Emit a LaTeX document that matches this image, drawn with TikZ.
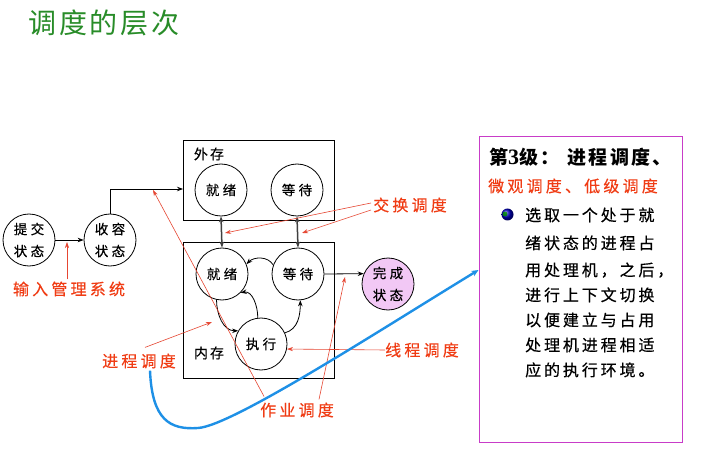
\documentclass[tikz,border=0pt]{standalone}
\usepackage{fontspec}
\setmainfont{Noto Sans CJK SC}
\newfontfamily\numfont{Liberation Serif}
\usetikzlibrary{arrows.meta,calc}
\definecolor{titlegreen}{RGB}{40,140,40}
\definecolor{lblred}{RGB}{240,60,20}
\definecolor{linered}{RGB}{230,70,50}
\definecolor{curveblue}{RGB}{30,144,230}
\definecolor{donepink}{RGB}{242,200,245}
\definecolor{boxmagenta}{RGB}{200,60,200}
\begin{document}
\begin{tikzpicture}[x=1pt,y=-1pt,
  every node/.style={inner sep=0pt},
  state/.style={draw,circle,minimum size=52pt,line width=0.8pt,align=center,
    font=\fontsize{13.5}{22}\selectfont\addfontfeatures{LetterSpace=25,FakeBold=0.4}},
  membox/.style={draw,line width=1pt,minimum width=151pt},
  arr/.style={-{Stealth[length=6pt,width=4.5pt]},line width=0.8pt},
  darr/.style={{Stealth[length=6pt,width=4.5pt]}-{Stealth[length=6pt,width=4.5pt]},line width=1.5pt,draw=black!75},
  redlbl/.style={text=lblred,font=\fontsize{16}{16}\selectfont\addfontfeatures{LetterSpace=20,FakeBold=0.3}},
  redarr/.style={-{Stealth[length=6pt,width=4pt]},line width=0.6pt,draw=linered},
  memlbl/.style={font=\fontsize{14}{14}\selectfont\addfontfeatures{LetterSpace=15,FakeBold=0.4}},
  para/.style={anchor=base west,font=\fontsize{16}{16}\selectfont\addfontfeatures{LetterSpace=18,FakeBold=0.4}},
]
\useasboundingbox (0,0) rectangle (714,454);
\fill[white] (0,0) rectangle (714,454);

% title
\node[text=titlegreen,font=\fontsize{28}{28}\selectfont\addfontfeatures{LetterSpace=10}] (title) at (104,23) {调度的层次};

% memory boxes
\node[membox,minimum height=80pt] (wc) at (258.5,181) {};
\node[membox,minimum height=135pt] (nc) at (258.5,310.5) {};
\node[memlbl] (wcl) at (209,154) {外存};
\node[memlbl] (ncl) at (209,353) {内存};

% states
\node[state] (tj) at (29,240) {提交\\状态};
\node[state] (sr) at (110,240) {收容\\状态};
\node[state] (or) at (221,190) {就绪};
\node[state] (ow) at (297,190) {等待};
\node[state] (ir) at (222,274) {就绪};
\node[state] (iw) at (298,274) {等待};
\node[state] (ix) at (261,344) {执行};
\node[state,fill=donepink] (wcs) at (388,284) {完成\\状态};

% black connectors
\coordinate (wcin) at (183,189);
\draw[arr] (tj) -- (sr);
\draw[arr] (sr.north) |- (wcin);
\draw[darr] (or.south) -- (ir.north);
\draw[darr] (ow.south) -- (iw.north);
\draw[arr] (iw.east) -- (wcs.157);
\draw[arr] (iw.160) to[out=120,in=45] (ir.22);
\draw[arr] (ix.97) to[out=90,in=10] (ir.-45);
\draw[arr] (ix.25) to[out=15,in=-90] (iw.-85);
\draw[arr] (ir.-102) to[out=-90,in=180] (ix.150);

% red labels
\node[redlbl] (srl) at (69,289) {输入管理系统};
\node[redlbl] (jh) at (410,205) {交换调度};
\node[redlbl] (xc) at (422,350) {线程调度};
\node[redlbl] (jc) at (139,361) {进程调度};
\node[redlbl] (zy) at (297,410) {作业调度};

% red annotation targets
\coordinate (t0) at (67,242);
\coordinate (t1) at (225,233);
\coordinate (t2) at (302,233);
\coordinate (t3) at (212,322);
\coordinate (t4) at (153,190);
\coordinate (t5) at (345,277);

\draw[redarr] ($(srl.north)+(-2,-2)$) -- (t0);
\draw[redarr] ($(jh.west)+(-2,-2)$) -- (t1);
\draw[redarr] ($(jh.west)+(-2,5)$) -- (t2);
\draw[redarr] (xc.west) -- (ix.-11);
\draw[redarr] ($(jc.north)+(6,-6)$) -- (t3);
\draw[redarr] ($(zy.north west)+(4,-6)$) -- (t4);
\draw[redarr] ($(zy.north)+(22,-3)$) -- (t5);

% right box
\node[draw=boxmagenta,line width=1pt,minimum width=203pt,minimum height=305pt] (rb) at (580.5,289.5) {};
\node[anchor=west,font=\fontsize{19}{19}\selectfont\bfseries\addfontfeatures{LetterSpace=12}] (h1) at (489,157) {第{\numfont\bfseries\fontsize{22}{22}\selectfont 3}级：\hspace{8pt}进程调度、};
\node[anchor=west,text=lblred,font=\fontsize{16}{16}\selectfont\addfontfeatures{LetterSpace=20,FakeBold=0.3}] (h2) at (488,186) {微观调度、低级调度};
\node[circle,minimum size=12pt,shading=ball,ball color=blue!75!black] (globe) at (507.5,214.5) {};
\fill[green!55!black,opacity=0.85] ($(globe.center)+(-2.5,-0.5)$) circle (2.4);
\node[para] (p1) at (525,221) {选取一个处于就};
\node[para] (p2) at (525,249) {绪状态的进程占};
\node[para] (p3) at (525,276) {用处理机，之后，};
\node[para] (p4) at (525,301) {进行上下文切换};
\node[para] (p5) at (525,326) {以便建立与占用};
\node[para] (p6) at (525,351) {处理机进程相适};
\node[para] (p7) at (525,376) {应的执行环境。};

% blue curve
\coordinate (bs) at ($(jc.south)+(11,2)$);
\coordinate (be) at ($(rb.west)+(0,-19.5)$);
\draw[curveblue,line width=2.4pt,-{Stealth[length=7pt,width=6pt]}] (bs) .. controls (152,420) and (170,430) .. (198,428) .. controls (232,426) and (380,330) .. (be);
\end{tikzpicture}
\end{document}
